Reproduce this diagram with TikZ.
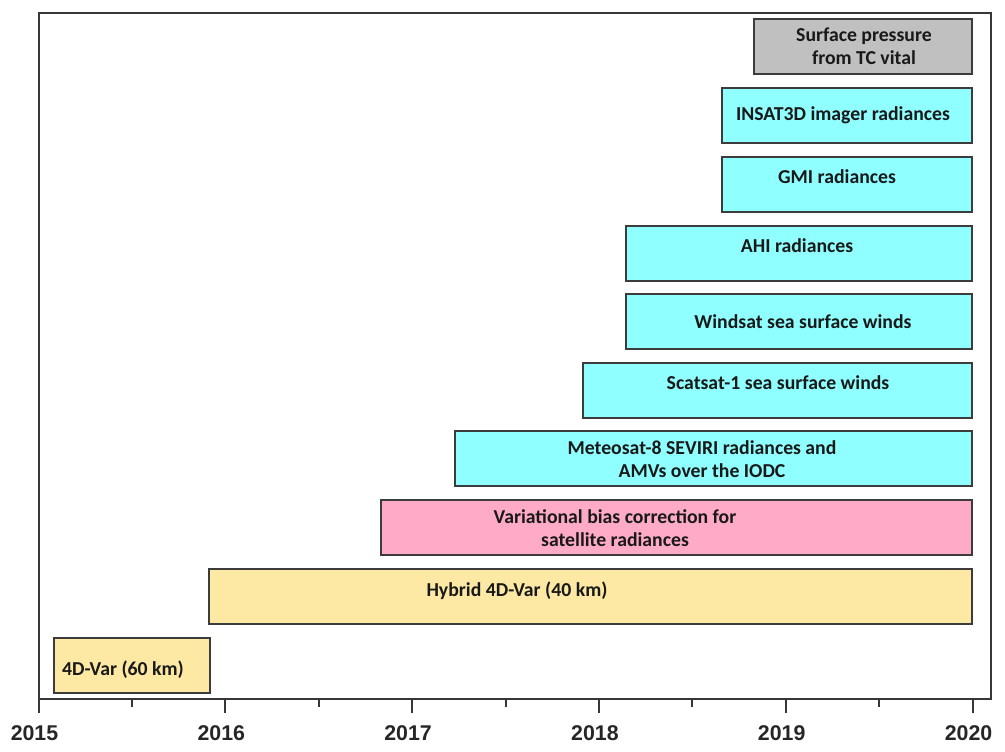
\documentclass[tikz,border=0pt]{standalone}
\usepackage{fontspec}
\setmainfont{Liberation Sans}
\newfontfamily\boxfont{Carlito}
\definecolor{cyanfill}{RGB}{143,255,255}
\definecolor{pinkfill}{RGB}{255,170,198}
\definecolor{yellowfill}{RGB}{253,233,163}
\definecolor{grayfill}{RGB}{192,192,192}
\definecolor{edge}{RGB}{60,60,60}
\definecolor{axiscol}{RGB}{55,55,55}
\begin{document}
\begin{tikzpicture}[x=0.75pt,y=-0.75pt,
  bar/.style={rectangle, draw=edge, line width=1.1pt, inner sep=0pt, outer sep=0pt,
    anchor=north west, minimum height=41.25pt, minimum width={#1*0.75pt}},
  txt/.style={font=\boxfont\bfseries\fontsize{14.8}{17.5}\selectfont, align=center, inner sep=0pt, text=black!90},
  yearlbl/.style={font=\bfseries\fontsize{16}{18}\selectfont, text=black!85, inner sep=0pt},
  axisline/.style={draw=axiscol, line width=1.5pt}]
\useasboundingbox (0,0) rectangle (1005,751);
% frame
\draw[axisline] (38.5,12.5) rectangle (991,699);
% ticks and labels
\foreach \k/\yr in {0/2015,1/2016,2/2017,3/2018,4/2019,5/2020}{
  \coordinate (t\k) at ({38.5+186.8*\k},699);
  \draw[axisline] (t\k) -- ++(0,14);
  \node[yearlbl] (y\k) at ({34.5+186.8*\k},733) {\yr};
}
\foreach \k in {0,1,2,3,4}{
  \coordinate (m\k) at ({38.5+186.8*\k+93.4},699);
  \draw[axisline] (m\k) -- ++(0,8);
}
% bars
\node[bar=218, fill=grayfill] (b1) at (754,19) {};
\node[bar=250, fill=cyanfill] (b2) at (722,88) {};
\node[bar=250, fill=cyanfill] (b3) at (722,157) {};
\node[bar=346, fill=cyanfill] (b4) at (626,226) {};
\node[bar=346, fill=cyanfill] (b5) at (626,294) {};
\node[bar=389, fill=cyanfill] (b6) at (583,363) {};
\node[bar=517, fill=cyanfill] (b7) at (455,431) {};
\node[bar=591, fill=pinkfill] (b8) at (381,500) {};
\node[bar=763, fill=yellowfill] (b9) at (209,569) {};
\node[bar=156, fill=yellowfill] (b10) at (54,638) {};
% labels
\node[txt] (l1) at (864,46) {Surface pressure\\from TC vital};
\node[txt] (l2) at (843,115) {INSAT3D imager radiances};
\node[txt] (l3) at (837,177) {GMI radiances};
\node[txt] (l4) at (797,246) {AHI radiances};
\node[txt] (l5) at (803,322) {Windsat sea surface winds};
\node[txt] (l6) at (778,383) {Scatsat-1 sea surface winds};
\node[txt] (l7) at (702,459) {Meteosat-8 SEVIRI radiances and\\AMVs over the IODC};
\node[txt] (l8) at (615,528) {Variational bias correction for\\satellite radiances};
\node[txt] (l9) at (517,591) {Hybrid 4D-Var (40 km)};
\node[txt] (l10) at (123,670) {4D-Var (60 km)};
\end{tikzpicture}
\end{document}
